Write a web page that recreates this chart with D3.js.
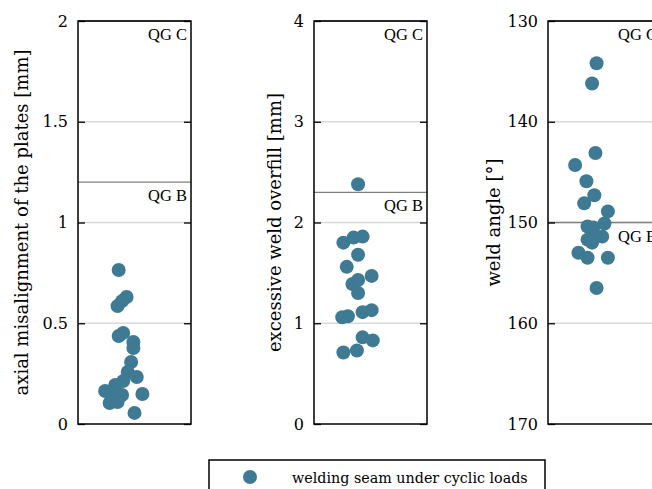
<!DOCTYPE html>
<html><head><meta charset="utf-8">
<script src="https://cdn.jsdelivr.net/npm/d3@7"></script>
<style>body{margin:0;background:#fff}svg{display:block}</style>
</head><body>
<script>
// ---- data ----
const misalignX = [0.86,0.93,0.89,0.85,0.90,0.86,0.99,0.99,0.97,0.94,1.02,0.90,0.83,0.74,0.81,0.89,1.07,0.78,0.85,1.00];
const misalignY = [0.764,0.63,0.61,0.585,0.452,0.437,0.407,0.377,0.308,0.258,0.233,0.213,0.194,0.164,0.154,0.144,0.149,0.104,0.109,0.055];
const overfillX = [0.89,0.76,0.85,0.93,0.89,0.79,1.01,0.84,0.89,0.89,0.75,0.80,0.93,1.01,0.93,1.02,0.88,0.76];
const overfillY = [2.38,1.80,1.85,1.86,1.68,1.56,1.47,1.39,1.43,1.30,1.06,1.07,1.11,1.13,0.86,0.83,0.73,0.71];
const angleX = [0.93,0.89,0.92,0.74,0.84,0.91,0.82,1.03,1.00,0.85,0.90,0.98,0.92,0.85,0.89,0.77,0.85,1.03,0.93];
const angleY = [134.2,136.2,143.1,144.3,145.9,147.3,148.1,148.9,150.1,150.4,150.5,151.4,151.4,151.7,152.0,153.0,153.5,153.5,156.5];

const yLabels = ["axial misalignment of the plates [mm]", "excessive weld overfill [mm]", "weld angle [°]"];
const yDomains = [[0, 2], [0, 4], [170, 130]];
const yTicks = [[0, 0.5, 1, 1.5, 2], [0, 1, 2, 3, 4], [130, 140, 150, 160, 170]];
const qgB = [1.2, 2.3, 150];
const qgC = [2, 4, 130];
const legendLabel = "welding seam under cyclic loads";

// ---- layout ----
const W = 652, H = 489;
const color = "#3e7a93";
const serif = "'DejaVu Serif', serif";
const svg = d3.select("body").append("svg").attr("width", W).attr("height", H);

const panels = [
  {left: 78, xs: misalignX, ys: misalignY, labelX: 22},
  {left: 314, xs: overfillX, ys: overfillY, labelX: 275},
  {left: 548, xs: angleX, ys: angleY, labelX: 494}
];
const boxTop = 21, boxBottom = 424, pw = 113;

panels.forEach((p, i) => {
  const g = svg.append("g");
  const x = d3.scaleLinear().domain([0.5, 1.5]).range([p.left, p.left + pw]);
  const y = d3.scaleLinear().domain(yDomains[i]).range([boxBottom, boxTop]);

  // grid
  g.selectAll(".grid").data(yTicks[i].slice(1, -1)).enter().append("line")
    .attr("x1", p.left).attr("x2", p.left + pw)
    .attr("y1", d => y(d)).attr("y2", d => y(d))
    .attr("stroke", "#d9d9d9").attr("stroke-width", 1.5);

  // QG lines
  g.append("line").attr("x1", p.left).attr("x2", p.left + pw)
    .attr("y1", y(qgB[i])).attr("y2", y(qgB[i]))
    .attr("stroke", "#7f7f7f").attr("stroke-width", 1.3);
  g.append("line").attr("x1", p.left).attr("x2", p.left + pw)
    .attr("y1", y(qgC[i])).attr("y2", y(qgC[i]))
    .attr("stroke", "#7f7f7f").attr("stroke-width", 1.3);

  // axes
  const axL = d3.axisLeft(y).tickValues(yTicks[i]).tickSize(-7).tickPadding(10)
    .tickFormat(d => String(d));
  const gl = g.append("g").attr("transform", `translate(${p.left},0)`).call(axL);
  gl.select(".domain").remove();
  gl.selectAll("line").attr("stroke", "#000").attr("stroke-width", 1.3);
  gl.selectAll("text").attr("font-family", serif).attr("font-size", 16).attr("fill", "#000");
  const axR = d3.axisRight(y).tickValues(yTicks[i]).tickSize(-7).tickFormat("");
  const gr = g.append("g").attr("transform", `translate(${p.left + pw},0)`).call(axR);
  gr.select(".domain").remove();
  gr.selectAll("line").attr("stroke", "#000").attr("stroke-width", 1.3);

  // QG labels
  g.append("text").attr("x", p.left + pw - 4).attr("y", y(qgC[i]) + 19)
    .attr("text-anchor", "end").attr("font-family", "'Liberation Serif', serif")
    .attr("font-size", 16.5).text("QG C");
  g.append("text").attr("x", p.left + pw - 4).attr("y", y(qgB[i]) + 19)
    .attr("text-anchor", "end").attr("font-family", "'Liberation Serif', serif")
    .attr("font-size", 16.5).text("QG B");

  // points
  const pts = p.xs.map((v, k) => ({x: v, y: p.ys[k]}));
  g.selectAll("circle").data(pts).enter().append("circle")
    .attr("cx", d => x(d.x)).attr("cy", d => y(d.y)).attr("r", 7)
    .attr("fill", color);

  // box
  g.append("rect").attr("x", p.left).attr("y", boxTop).attr("width", pw).attr("height", boxBottom - boxTop)
    .attr("fill", "none").attr("stroke", "#000").attr("stroke-width", 1.5);

  // y label
  g.append("text").attr("transform", `translate(${p.labelX},${(boxTop + boxBottom) / 2}) rotate(-90)`)
    .attr("text-anchor", "middle").attr("font-family", serif).attr("font-size", 18)
    .attr("dy", "0.35em").text(yLabels[i]);
});

// legend
const lg = svg.append("g");
lg.append("rect").attr("x", 209).attr("y", 460).attr("width", 336).attr("height", 40)
  .attr("fill", "#fff").attr("stroke", "#000").attr("stroke-width", 1.5);
lg.append("circle").attr("cx", 250).attr("cy", 477).attr("r", 7).attr("fill", color);
lg.append("text").attr("x", 292).attr("y", 483).attr("font-family", serif).attr("font-size", 14.3)
  .text(legendLabel);
</script>
</body></html>
